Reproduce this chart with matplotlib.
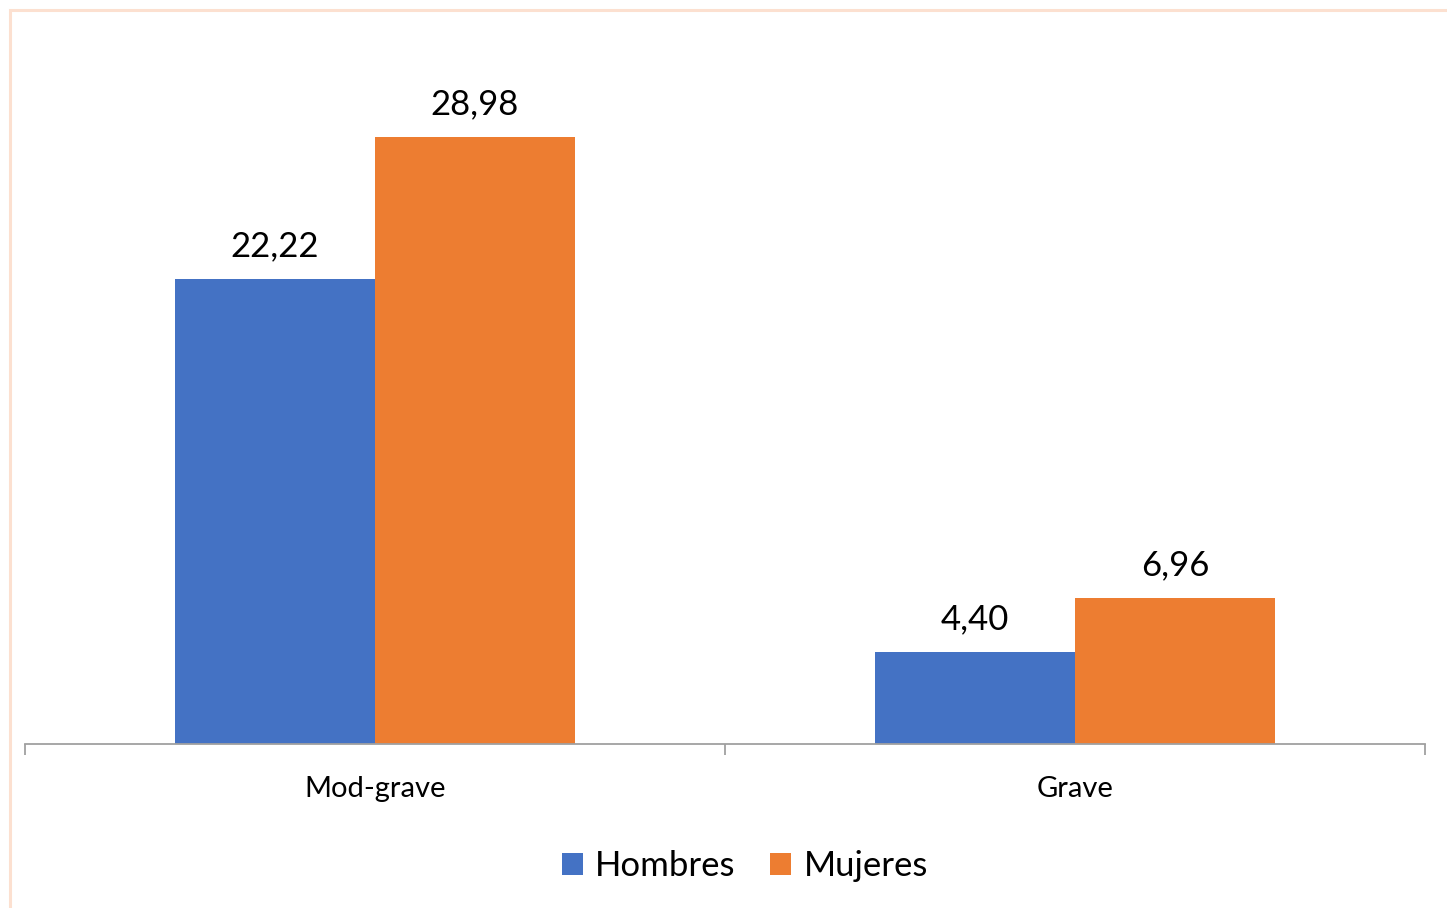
import matplotlib
matplotlib.use("Agg")
import matplotlib.pyplot as plt
from matplotlib.patches import Rectangle, Patch
import numpy as np

categories = ["Mod-grave", "Grave"]
series_names = ["Hombres", "Mujeres"]
hombres = [22.22, 4.40]
mujeres = [28.98, 6.96]
colors = ["#4472C4", "#ED7D31"]

plt.rcParams['font.family'] = ['Lato', 'DejaVu Sans']

W, H = 1447, 908
fig = plt.figure(figsize=(W/100, H/100), dpi=100)
fig.patch.set_facecolor("white")

# outer border (light peach)
fig.add_artist(Rectangle((10/W, -0.05), 1.2, (H-10)/H + 0.05, transform=fig.transFigure,
                         fill=False, edgecolor="#FCE0D0", linewidth=2.2))

ax = fig.add_axes([25/W, (H-744)/H, 1400/W, (744-11)/H])
x = np.arange(len(categories))
bw = 200/700
ax.bar(x - bw/2, hombres, bw, color=colors[0], label=series_names[0])
ax.bar(x + bw/2, mujeres, bw, color=colors[1], label=series_names[1])

for xi, v in zip(x - bw/2, hombres):
    ax.annotate(f"{v:.2f}".replace(".", ","), (xi, v), xytext=(0, 12), textcoords="offset points",
                ha="center", va="bottom", fontsize=25, color="black")
for xi, v in zip(x + bw/2, mujeres):
    ax.annotate(f"{v:.2f}".replace(".", ","), (xi, v), xytext=(0, 12), textcoords="offset points",
                ha="center", va="bottom", fontsize=25, color="black")

ax.set_xlim(-0.5, 1.5)
ax.set_ylim(0, 35)
for s in ["top", "right", "left"]:
    ax.spines[s].set_visible(False)
ax.spines["bottom"].set_color("#A0A0A0")
ax.spines["bottom"].set_linewidth(1.3)
ax.set_yticks([])
ax.set_xticks([-0.5, 0.5, 1.5], minor=False)
ax.set_xticklabels([])
ax.tick_params(axis="x", which="major", length=8, width=1.3, color="#A0A0A0")
ax.set_xticks(x, minor=True)
ax.set_xticklabels(categories, minor=True, fontsize=21, color="black")
ax.tick_params(axis="x", which="minor", length=0, pad=23)

handles = [Patch(facecolor=c, label=n) for c, n in zip(colors, series_names)]
fig.legend(handles=handles, loc="center", bbox_to_anchor=(745/W, (H-866)/H), ncol=2,
           frameon=False, fontsize=25, handlelength=0.6, handleheight=0.6,
           handletextpad=0.35, columnspacing=1.0)

fig.savefig("out.png", dpi=100)
